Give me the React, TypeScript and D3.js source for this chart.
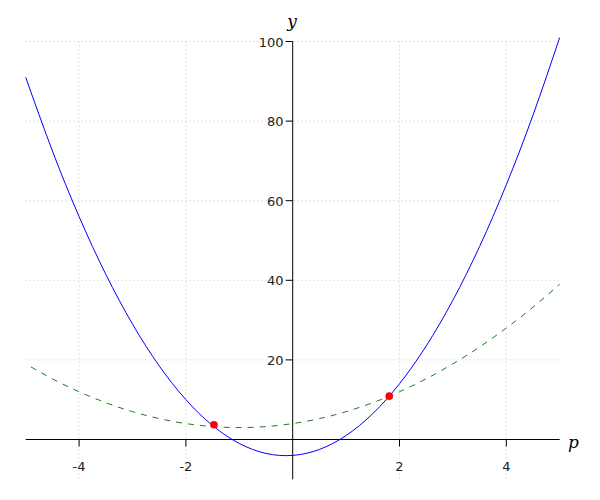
import React from "react";
import * as d3 from "d3";

const pValues = [-5, -4.5, -4, -3.5, -3, -2.5, -2, -1.5, -1, -0.5, 0, 0.5, 1, 1.5, 2, 2.5, 3, 3.5, 4, 4.5, 5];
const blueValues = [91, 72.5, 56, 41.5, 29, 18.5, 10, 3.5, -1, -3.5, -4, -2.5, 1, 6.5, 14, 23.5, 35, 48.5, 64, 81.5, 101];
const greenValues = [19, 15.25, 12, 9.25, 7, 5.25, 4, 3.25, 3, 3.25, 4, 5.25, 7, 9.25, 12, 15.25, 19, 23.25, 28, 33.25, 39];
const intersectP = [-1.475, 1.808];
const intersectY = [3.7, 10.89];
const xTicks = [-4, -2, 2, 4];
const yTicks = [20, 40, 60, 80, 100];

const W = 600;
const H = 500;

export default function App() {
  const x = d3.scaleLinear().domain([-5, 5]).range([25.7, 559.7]);
  const y = d3.scaleLinear().domain([-10, 100]).range([479.3, 41.5]);

  const blue = pValues.map((p, i) => [p, blueValues[i]] as [number, number]);
  const green = pValues.map((p, i) => [p, greenValues[i]] as [number, number]);
  const line = d3
    .line<[number, number]>()
    .x((d) => x(d[0]))
    .y((d) => y(d[1]))
    .curve(d3.curveNatural);

  const x0 = x(0);
  const y0 = y(0);
  const font = "'DejaVu Sans', sans-serif";

  return (
    <svg
      width={W}
      height={H}
      style={{ position: "absolute", left: 0, top: 0, background: "#fff" }}
    >
      {/* grid */}
      <g stroke="#c8c8c8" strokeWidth={1} strokeDasharray="1,3">
        {xTicks.map((t) => (
          <line key={"gx" + t} x1={x(t)} x2={x(t)} y1={y(100)} y2={y(-10)} />
        ))}
        {yTicks.map((t) => (
          <line key={"gy" + t} x1={x(-5)} x2={x(5)} y1={y(t)} y2={y(t)} />
        ))}
      </g>

      {/* axes */}
      <g stroke="#000" strokeWidth={1}>
        <line x1={x(-5)} x2={x(5)} y1={y0} y2={y0} />
        <line x1={x0} x2={x0} y1={y(100)} y2={y(-10)} />
        {xTicks.map((t) => (
          <line key={"tx" + t} x1={x(t)} x2={x(t)} y1={y0} y2={y0 + 7} />
        ))}
        {yTicks.map((t) => (
          <line key={"ty" + t} x1={x0 - 7} x2={x0} y1={y(t)} y2={y(t)} />
        ))}
      </g>

      {/* tick labels */}
      <g fontFamily={font} fontSize={13} fill="#222">
        {xTicks.map((t) => (
          <text key={"lx" + t} x={x(t)} y={471} textAnchor="middle">
            {t}
          </text>
        ))}
        {yTicks.map((t) => (
          <text key={"ly" + t} x={283.5} y={y(t) + 5} textAnchor="end">
            {t}
          </text>
        ))}
      </g>

      {/* axis labels */}
      <text
        x={568}
        y={448}
        fontFamily="'DejaVu Serif', serif"
        fontStyle="italic"
        fontSize={17}
        fill="#000"
      >
        p
      </text>
      <text
        x={292}
        y={27}
        textAnchor="middle"
        fontFamily="'DejaVu Serif', serif"
        fontStyle="italic"
        fontSize={17}
        fill="#000"
      >
        y
      </text>

      {/* curves */}
      <path
        d={line(green) || ""}
        fill="none"
        stroke="#1f7a1f"
        strokeWidth={1}
        strokeDasharray="6,6"
        strokeDashoffset={6}
      />
      <path d={line(blue) || ""} fill="none" stroke="#0000ff" strokeWidth={1} />

      {/* intersection points */}
      {intersectP.map((p, i) => (
        <circle key={"pt" + i} cx={x(p)} cy={y(intersectY[i])} r={3.8} fill="#ff0000" />
      ))}
    </svg>
  );
}
